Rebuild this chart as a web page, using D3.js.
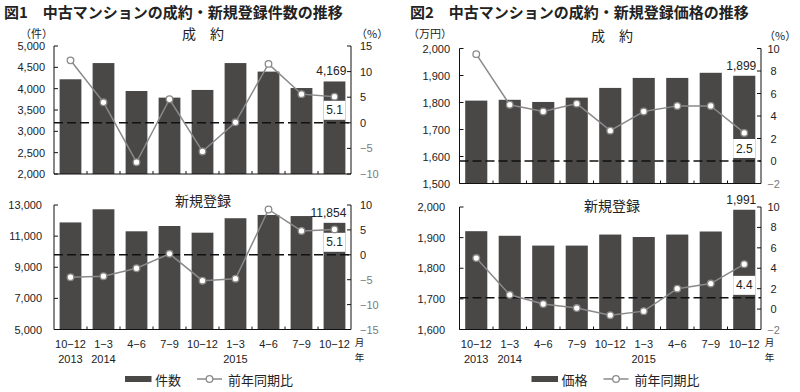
<!DOCTYPE html>
<html><head><meta charset="utf-8">
<script src="https://cdn.jsdelivr.net/npm/d3@7"></script>
<style>body{margin:0;background:#fff}svg{display:block}</style>
</head><body><svg id="c" width="800" height="392"></svg>
<script>
// ---------- data ----------
const categories = ["10\u221212","1\u22123","4\u22126","7\u22129","10\u221212","1\u22123","4\u22126","7\u22129","10\u221212"];
const yearLabels = ["2013","2014","","","","2015","","",""];

const contractCount    = [4220, 4600, 3945, 3790, 3970, 4600, 4400, 4015, 4169];
const contractCountYoY = [12.2, 4.0, -7.7, 4.6, -5.6, 0.1, 11.5, 5.6, 5.1];
const newCount         = [11880, 12725, 11310, 11650, 11220, 12150, 12360, 12290, 11854];
const newCountYoY      = [-4.5, -4.3, -2.7, 0.2, -5.2, -4.8, 9.1, 4.8, 5.1];
const contractPrice    = [1807, 1810, 1802, 1818, 1854, 1891, 1891, 1910, 1899];
const contractPriceYoY = [9.5, 5.0, 4.4, 5.1, 2.7, 4.4, 4.9, 4.9, 2.5];
const newPrice         = [1921, 1906, 1874, 1874, 1910, 1902, 1910, 1920, 1991];
const newPriceYoY      = [5.0, 1.4, 0.5, 0.1, -0.6, -0.2, 2.0, 2.5, 4.4];

const contractCountTicks = [2000, 2500, 3000, 3500, 4000, 4500, 5000];
const contractCountPctTicks = [-10, -5, 0, 5, 10, 15];
const newCountTicks = [5000, 7000, 9000, 11000, 13000];
const newCountPctTicks = [-15, -10, -5, 0, 5, 10];
const contractPriceTicks = [1500, 1600, 1700, 1800, 1900, 2000];
const newPriceTicks = [1600, 1700, 1800, 1900, 2000];
const pricePctTicks = [-2, 0, 2, 4, 6, 8, 10];

const fig1Title = "図1\u3000中古マンションの成約・新規登録件数の推移";
const fig2Title = "図2\u3000中古マンションの成約・新規登録価格の推移";
const subContract = "成\u3000約";
const subNew = "新規登録";
const unitCount = "（件）", unitPrice = "（万円）", unitPct = "（%）";
const legendCount = "件数", legendPrice = "価格", legendYoY = "前年同期比";
const monthMark = "月", yearMark = "年";

// ---------- style ----------
const BAR = "#4a4747", LINE = "#8a8a8a", NEG = "#7a7a7a";
const NUM = "'Liberation Sans', Arial, sans-serif";
const JP = "'Noto Sans CJK JP', sans-serif";
const svg = d3.select("#c");

const panels = [
  {x0:54, x1:351, y0:46, y1:174, bars:contractCount, yoy:contractCountYoY,
   lDom:[2000,5000], rDom:[-10,15], lTicks:contractCountTicks, rTicks:contractCountPctTicks,
   ref:0, sub:subContract, subX:203, subY:33, lLabX:45, rLabX:360, rAnchor:"start", xLabels:false},
  {x0:54, x1:351, y0:205, y1:329.5, bars:newCount, yoy:newCountYoY,
   lDom:[5000,13000], rDom:[-15,10], lTicks:newCountTicks, rTicks:newCountPctTicks,
   ref:0, sub:subNew, subX:203, subY:200, lLabX:42, rLabX:360, rAnchor:"start", xLabels:true},
  {x0:459.5, x1:761, y0:48.5, y1:183.5, bars:contractPrice, yoy:contractPriceYoY,
   lDom:[1500,2000], rDom:[-2,10], lTicks:contractPriceTicks, rTicks:pricePctTicks,
   ref:0, sub:subContract, subX:612, subY:35, lLabX:450, rLabX:773.5, rAnchor:"middle", xLabels:false},
  {x0:459.5, x1:761, y0:207, y1:329.5, bars:newPrice, yoy:newPriceYoY,
   lDom:[1600,2000], rDom:[-2,10], lTicks:newPriceTicks, rTicks:pricePctTicks,
   ref:1.1, sub:subNew, subX:612, subY:205, lLabX:445, rLabX:773.5, rAnchor:"middle", xLabels:true}
];

const fmtC = d3.format(",");

panels.forEach(p => {
  const g = svg.append("g");
  const x = d3.scaleBand().domain(categories.map((c,i)=>i)).range([p.x0,p.x1]).paddingInner(0.34).paddingOuter(0.17);
  const xb = d3.scaleBand().domain(categories.map((c,i)=>i)).range([p.x0,p.x1]);
  const yl = d3.scaleLinear().domain(p.lDom).range([p.y1,p.y0]);
  const yr = d3.scaleLinear().domain(p.rDom).range([p.y1,p.y0]);

  // bars
  g.selectAll("rect.bar").data(p.bars).enter().append("rect")
    .attr("x",(d,i)=>x(i)).attr("width",x.bandwidth())
    .attr("y",d=>yl(d)).attr("height",d=>p.y1-yl(d)).attr("fill",BAR);

  // reference dashed line
  const ry = yr(p.ref);
  g.append("line").attr("x1",p.x0).attr("x2",p.x1).attr("y1",ry).attr("y2",ry)
    .attr("stroke","#111").attr("stroke-width",1.5).attr("stroke-dasharray","9,4");

  // white box with last YoY value
  const last = p.bars.length-1;
  g.append("rect").attr("x",x(last)).attr("width",x.bandwidth())
    .attr("y",ry-22).attr("height",19).attr("fill","#fff");
  g.append("text").attr("x",x(last)+x.bandwidth()/2).attr("y",ry-12.5)
    .attr("text-anchor","middle").attr("dominant-baseline","central")
    .style("font-family",NUM).style("font-size","12px").attr("fill","#222")
    .text(d3.format(".1f")(p.yoy[last]));

  // bar value label
  g.append("text").attr("x",x(last)+x.bandwidth()+1).attr("y",yl(p.bars[last])-10)
    .attr("text-anchor","end").attr("dominant-baseline","central")
    .style("font-family",NUM).style("font-size","12px").attr("fill","#222")
    .text(fmtC(p.bars[last]));

  // line + markers
  const line = d3.line().x((d,i)=>x(i)+x.bandwidth()/2).y(d=>yr(d));
  g.append("path").datum(p.yoy).attr("d",line).attr("fill","none")
    .attr("stroke",LINE).attr("stroke-width",1.5);
  g.selectAll("circle").data(p.yoy).enter().append("circle")
    .attr("cx",(d,i)=>x(i)+x.bandwidth()/2).attr("cy",d=>yr(d)).attr("r",3.3)
    .attr("fill","#fff").attr("stroke",LINE).attr("stroke-width",1.3);

  // axes lines
  const ax = g.append("g").attr("stroke","#111").attr("stroke-width",1).attr("fill","none");
  ax.append("line").attr("x1",p.x0).attr("x2",p.x0).attr("y1",p.y0).attr("y2",p.y1);
  ax.append("line").attr("x1",p.x1).attr("x2",p.x1).attr("y1",p.y0).attr("y2",p.y1);
  ax.append("line").attr("x1",p.x0).attr("x2",p.x1).attr("y1",p.y1).attr("y2",p.y1);
  p.lTicks.forEach(t=>ax.append("line").attr("x1",p.x0).attr("x2",p.x0+4).attr("y1",yl(t)).attr("y2",yl(t)));
  p.rTicks.forEach(t=>ax.append("line").attr("x1",p.x1-4).attr("x2",p.x1).attr("y1",yr(t)).attr("y2",yr(t)));
  categories.forEach((c,i)=>{ if(i>0){ const bx=xb(i); ax.append("line").attr("x1",bx).attr("x2",bx).attr("y1",p.y1-3).attr("y2",p.y1);} });

  // tick labels
  g.selectAll("text.lt").data(p.lTicks).enter().append("text")
    .attr("x",p.lLabX).attr("y",d=>yl(d)).attr("text-anchor","end").attr("dominant-baseline","central")
    .style("font-family",NUM).style("font-size","11px").attr("fill","#222").text(d=>fmtC(d));
  g.selectAll("text.rt").data(p.rTicks).enter().append("text")
    .attr("x",p.rLabX).attr("y",d=>yr(d)).attr("text-anchor",p.rAnchor).attr("dominant-baseline","central")
    .style("font-family",NUM).style("font-size","11px").attr("fill",d=>d<0?NEG:"#222").text(d=>d3.format("")(d));

  // subtitle
  g.append("text").attr("x",p.subX).attr("y",p.subY).attr("text-anchor","middle").attr("dominant-baseline","central")
    .style("font-family",JP).style("font-size","14px").attr("fill","#222").text(p.sub);

  if (p.xLabels) {
    g.selectAll("text.xc").data(categories).enter().append("text")
      .attr("x",(d,i)=>xb(i)+xb.bandwidth()/2).attr("y",p.y1+14).attr("text-anchor","middle").attr("dominant-baseline","central")
      .style("font-family",NUM).style("font-size","11px").attr("fill","#222").text(d=>d);
    g.selectAll("text.xy").data(yearLabels).enter().append("text")
      .attr("x",(d,i)=>xb(i)+xb.bandwidth()/2).attr("y",p.y1+29).attr("text-anchor","middle").attr("dominant-baseline","central")
      .style("font-family",NUM).style("font-size","11px").attr("fill","#222").text(d=>d);
    g.append("text").attr("x",p.x1+8.5).attr("y",p.y1+12).attr("text-anchor","middle").attr("dominant-baseline","central")
      .style("font-family",JP).style("font-size","9.5px").attr("fill","#222").text(monthMark);
    g.append("text").attr("x",p.x1+8.5).attr("y",p.y1+27.5).attr("text-anchor","middle").attr("dominant-baseline","central")
      .style("font-family",JP).style("font-size","9.5px").attr("fill","#222").text(yearMark);
  }
});

// titles
function txt(x,y,s,size,opts={}) {
  return svg.append("text").attr("x",x).attr("y",y).attr("dominant-baseline","central")
    .attr("text-anchor",opts.anchor||"start")
    .style("font-family",opts.font||JP).style("font-size",size+"px")
    .style("font-weight",opts.bold?"bold":"normal").attr("fill",opts.fill||"#222").text(s);
}
txt(4,11,fig1Title,15,{bold:true});
txt(410,11,fig2Title,15,{bold:true});
txt(20,33,unitCount,11);
txt(408,33,unitPrice,11);
txt(356,33,unitPct,11);
txt(764,35,unitPct,11);

// legends
function legend(x0, label) {
  svg.append("rect").attr("x",x0).attr("y",376).attr("width",26.5).attr("height",6).attr("fill",BAR);
  txt(x0+30,379,label,13);
  const lx = x0+72;
  svg.append("line").attr("x1",lx).attr("x2",lx+25).attr("y1",379).attr("y2",379).attr("stroke",LINE).attr("stroke-width",1.5);
  svg.append("circle").attr("cx",lx+12.5).attr("cy",379).attr("r",3.3).attr("fill","#fff").attr("stroke",LINE).attr("stroke-width",1.3);
  txt(lx+31,379,legendYoY,13);
}
legend(125, legendCount);
legend(531.5, legendPrice);
</script></body></html>
